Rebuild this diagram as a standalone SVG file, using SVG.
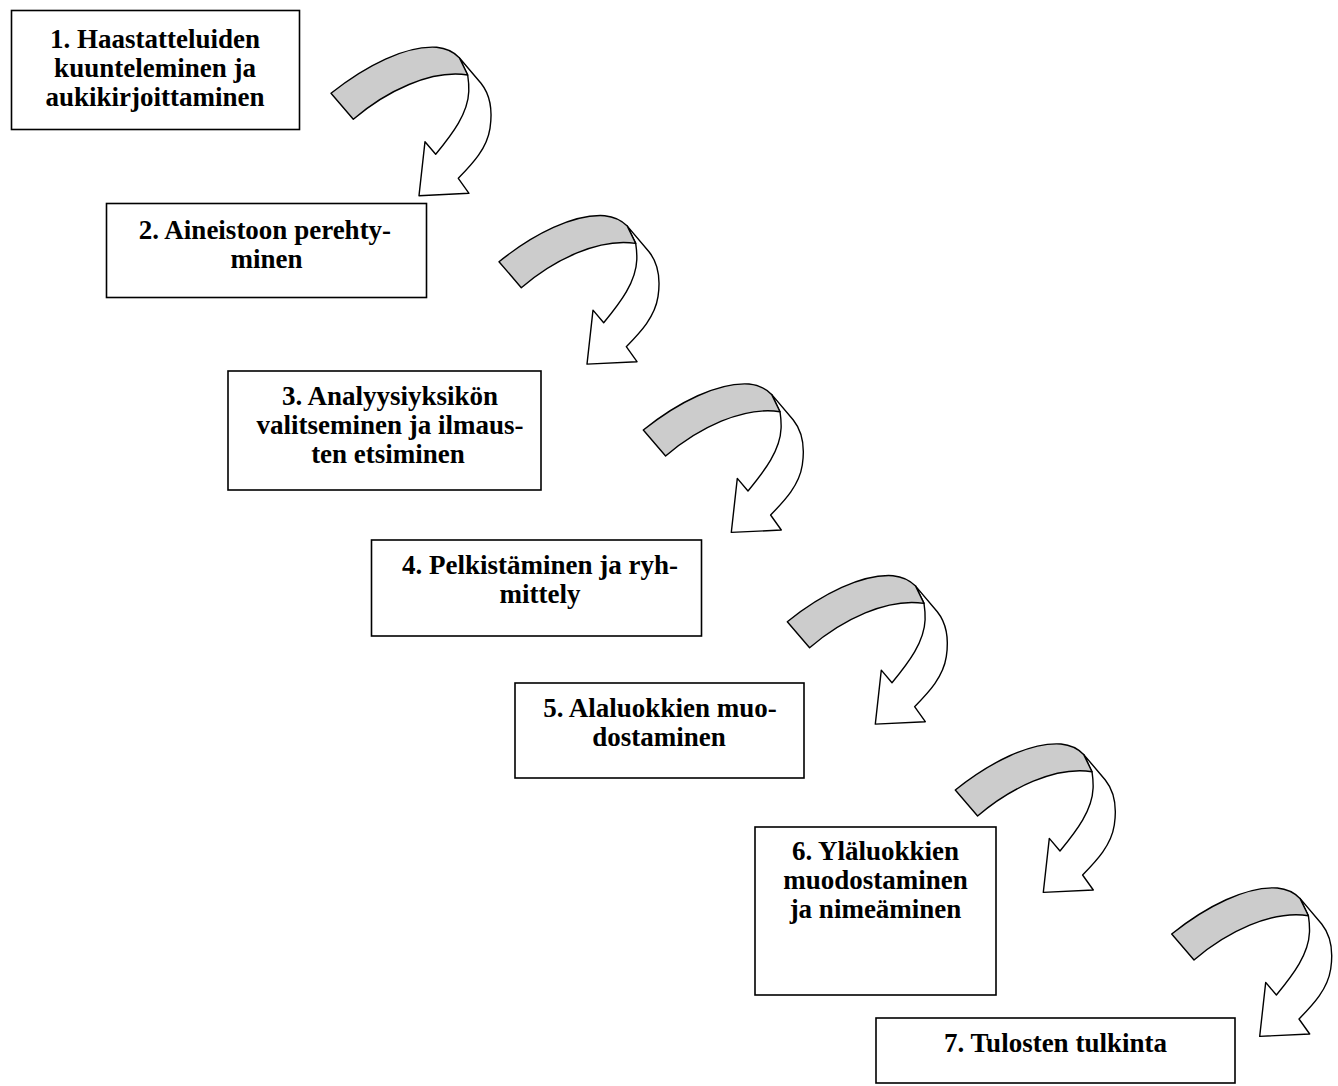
<svg xmlns="http://www.w3.org/2000/svg" xmlns:xlink="http://www.w3.org/1999/xlink" width="1338" height="1086" viewBox="0 0 1338 1086">
<style>
.box{fill:#fff;stroke:#000;stroke-width:1.6}
.t{font-family:"Liberation Serif","Times New Roman",serif;font-weight:bold;font-size:27px;fill:#000;text-anchor:middle}
.aw{fill:#fff;stroke:#000;stroke-width:1.4;stroke-linejoin:round}
.ag{fill:#cccccc;stroke:#000;stroke-width:1.4;stroke-linejoin:round}
</style>
<defs>
<g id="carrow">
<path class="aw" d="M128.3,-35.6 L150,-10 C158,0 162,15 159,35 C156,55 142,70 127.3,85 L138,100 L88,102.4 L94,48.4 L104.7,61 C122,40 137,20 137.8,-2 C138,-8 137.5,-13 136.7,-18.3 Z"/>
<path class="ag" d="M0,0 C35,-28 75,-48 105.7,-46 C116,-45 124,-40 128.3,-35.6 L136.7,-18.3 C100,-24 55,-2 22.3,26 Z"/>
</g>
</defs>
<rect width="1338" height="1086" fill="#fff"/>
<g id="connectors">
<use xlink:href="#carrow" href="#carrow" transform="translate(331,93.3)"/>
<use xlink:href="#carrow" href="#carrow" transform="translate(499,261.7)"/>
<use xlink:href="#carrow" href="#carrow" transform="translate(643.3,430)"/>
<use xlink:href="#carrow" href="#carrow" transform="translate(787.3,621.7)"/>
<use xlink:href="#carrow" href="#carrow" transform="translate(955.3,790)"/>
<use xlink:href="#carrow" href="#carrow" transform="translate(1171.7,934)"/>
</g>
<g id="node1">
<rect class="box" x="11.5" y="10.5" width="288" height="119"/>
<text class="t" x="155" y="48">1. Haastatteluiden</text>
<text class="t" x="155" y="77">kuunteleminen ja</text>
<text class="t" x="155" y="105.5">aukikirjoittaminen</text>
</g>
<g id="node2">
<rect class="box" x="106.5" y="203.5" width="320" height="94"/>
<text class="t" x="265" y="238.5">2. Aineistoon perehty-</text>
<text class="t" x="266.5" y="267.5">minen</text>
</g>
<g id="node3">
<rect class="box" x="228" y="371" width="313" height="119"/>
<text class="t" x="390" y="405">3. Analyysiyksikön</text>
<text class="t" x="390" y="434">valitseminen ja ilmaus-</text>
<text class="t" x="388" y="463">ten etsiminen</text>
</g>
<g id="node4">
<rect class="box" x="371.5" y="540" width="330" height="96"/>
<text class="t" x="540" y="573.5">4. Pelkistäminen ja ryh-</text>
<text class="t" x="540" y="602.5">mittely</text>
</g>
<g id="node5">
<rect class="box" x="515" y="683" width="289" height="95"/>
<text class="t" x="660" y="716.5">5. Alaluokkien muo-</text>
<text class="t" x="659" y="745.5">dostaminen</text>
</g>
<g id="node6">
<rect class="box" x="755" y="827" width="241" height="168"/>
<text class="t" x="875.5" y="860">6. Yläluokkien</text>
<text class="t" x="875.5" y="889">muodostaminen</text>
<text class="t" x="875.5" y="918">ja nimeäminen</text>
</g>
<g id="node7">
<rect class="box" x="876" y="1018" width="359" height="65"/>
<text class="t" x="1055.5" y="1052">7. Tulosten tulkinta</text>
</g>
</svg>
